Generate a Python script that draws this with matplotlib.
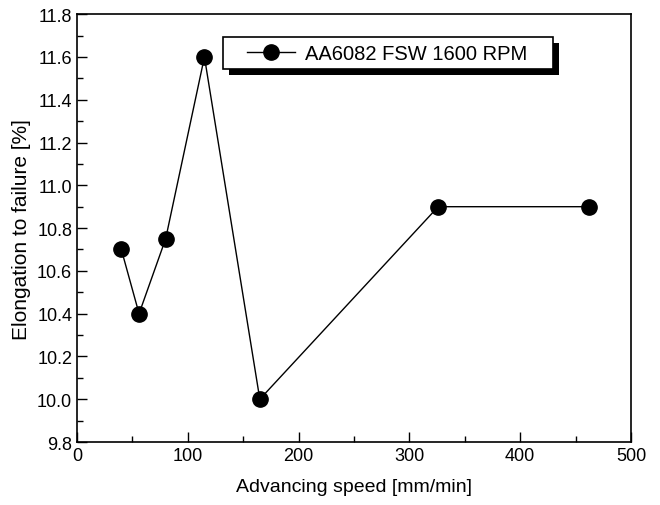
import matplotlib
matplotlib.use("Agg")
import matplotlib.pyplot as plt
from matplotlib.patches import Rectangle
from matplotlib.ticker import MultipleLocator

# data
speed = [40, 56, 80, 115, 165, 326, 462]
elongation = [10.70, 10.40, 10.75, 11.60, 10.00, 10.90, 10.90]
series_label = "AA6082 FSW 1600 RPM"

plt.rcParams['font.family'] = ['Liberation Sans', 'DejaVu Sans']

fig = plt.figure(figsize=(6.6, 5.06), dpi=100)
ax = fig.add_axes([0.1167, 0.1245, 0.956 - 0.1167, 0.970 - 0.1245])

ax.plot(speed, elongation, color='black', lw=1.0, marker='o',
        markersize=11, markerfacecolor='black', markeredgecolor='black',
        label=series_label)

ax.set_xlim(0, 500)
ax.set_ylim(9.8, 11.8)
ax.xaxis.set_major_locator(MultipleLocator(100))
ax.xaxis.set_minor_locator(MultipleLocator(50))
ax.yaxis.set_major_locator(MultipleLocator(0.2))
ax.yaxis.set_minor_locator(MultipleLocator(0.1))
ax.yaxis.set_major_formatter(plt.FormatStrFormatter('%.1f'))
ax.tick_params(which='both', direction='in', labelsize=13)
ax.tick_params(which='major', length=7, width=1)
ax.tick_params(which='minor', length=4, width=1)
for s in ax.spines.values():
    s.set_linewidth(1.2)

ax.set_xlabel("Advancing speed [mm/min]", fontsize=14, labelpad=10)
ax.set_ylabel("Elongation to failure [%]", fontsize=15, labelpad=4)

# legend entries without frame, the frame + shadow is drawn by hand
# because the box has wider padding left/right than top/bottom
leg = ax.legend(loc='center left', bbox_to_anchor=(0.307, 0.909),
                frameon=False, fontsize=14.5, handlelength=2.4,
                borderpad=0, borderaxespad=0, handletextpad=0.5)
leg.set_zorder(6)

fig.canvas.draw()
bb = leg.get_window_extent()
pad_l, pad_r, box_h = 24, 25, 32
x0 = bb.x0 - pad_l
w = bb.width + pad_l + pad_r
y0 = bb.y0 + bb.height / 2 - box_h / 2
shadow = Rectangle((x0 + 6, y0 - 6), w, box_h, transform=None,
                   facecolor='black', edgecolor='none', zorder=4.9,
                   clip_on=False)
frame = Rectangle((x0, y0), w, box_h, transform=None, facecolor='white',
                  edgecolor='black', lw=1.2, zorder=4.95, clip_on=False)
ax.add_artist(shadow)
ax.add_artist(frame)

fig.savefig("out.png", dpi=100)
